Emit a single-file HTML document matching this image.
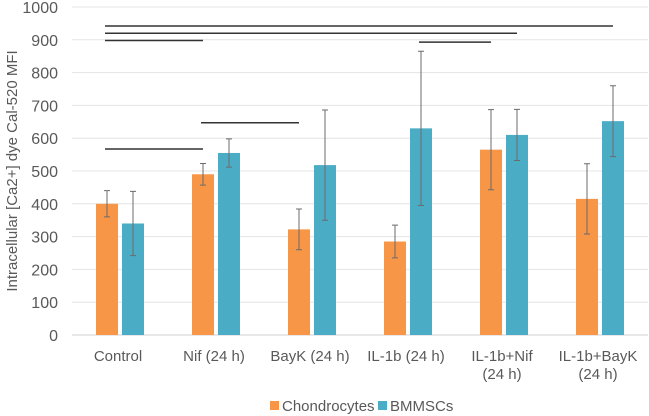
<!DOCTYPE html>
<html><head><meta charset="utf-8"><style>
body{margin:0;background:#fff;}
svg{display:block;font-family:"Liberation Sans",sans-serif;}
</style></head><body>
<svg id="c" width="649" height="416"></svg>
<script>
const categories=["Control","Nif (24 h)","BayK (24 h)","IL-1b (24 h)","IL-1b+Nif|(24 h)","IL-1b+BayK|(24 h)"];
const chondro=[400,490,322,285,565,415];
const chondroErr=[40,33,62,50,122,107];
const bmmsc=[340,555,518,630,610,652];
const bmmscErr=[98,43,168,235,78,108];
const yTicks=[0,100,200,300,400,500,600,700,800,900,1000];
const sigBars=[[0,0,1,0,898],[0,0,5,1,942],[0,0,4,1,920],[3,1,4,0,893],[1,0,2,0,647],[0,0,1,0,567]];
const NS="http://www.w3.org/2000/svg";
const svg=document.getElementById('c');
const X0=72,X1=648,Y0=335,Y1=7;
const y=v=>Y0-(v/1000)*(Y0-Y1);
const bw=(X1-X0)/categories.length;
const cx=i=>X0+bw*(i+0.5);
const barX=(i,s)=>s===0?cx(i)-24:cx(i)+2;
function mk(t,a,p){const e=document.createElementNS(NS,t);for(const k in a)e.setAttribute(k,a[k]);(p||svg).appendChild(e);return e;}
yTicks.forEach(v=>{
 const g=mk('line',{x1:X0,x2:X1,y1:y(v),y2:y(v),stroke:v===0?'#d0d0d0':'#e4e4e4','stroke-width':1});
 
 
 const t=mk('text',{x:58,y:y(v)+6,'text-anchor':'end','font-size':16,fill:'#595959'});
 t.textContent=v;
 
 
});
const yt=mk('text',{transform:'translate(17,171) rotate(-90)','text-anchor':'middle','font-size':15,fill:'#595959'});
yt.textContent='Intracellular [Ca2+] dye Cal-520 MFI';


function series(vals,errs,s,color,name){
 vals.forEach((v,i)=>{
  const x=barX(i,s);
  const r=mk('rect',{x:x,y:y(v),width:22,height:Y0-y(v),fill:color});
  
  
  const ex=x+11,hi=y(v+errs[i]),lo=y(v-errs[i]);
  const e=mk('path',{d:`M${ex},${hi}V${lo}M${ex-3},${hi}H${ex+3}M${ex-3},${lo}H${ex+3}`,stroke:'#6b6b6b','stroke-width':1,fill:'none'});
  
  
 });
}
series(chondro,chondroErr,0,'#f79646','chondrocytes');
series(bmmsc,bmmscErr,1,'#4bacc6','bmmscs');
sigBars.forEach((b,k)=>{
 const l=mk('line',{x1:barX(b[0],b[1])+9,x2:barX(b[2],b[3])+11,y1:y(b[4]),y2:y(b[4]),stroke:'#333','stroke-width':1.5});
 
 
});
categories.forEach((c,i)=>{
 c.split('|').forEach((ln,j)=>{
  const t=mk('text',{x:cx(i)-2,y:361+j*18,'text-anchor':'middle','font-size':15,fill:'#595959'});
  t.textContent=ln;
  
  
 });
});
[['#f79646','Chondrocytes',270],['#4bacc6','BMMSCs',378]].forEach((d,k)=>{
 const r=mk('rect',{x:d[2],y:401,width:9,height:9,fill:d[0]});
 
 
 const t=mk('text',{x:d[2]+12,y:411,'font-size':15,fill:'#595959'});
 t.textContent=d[1];
 
 
});
</script>
</body></html>
